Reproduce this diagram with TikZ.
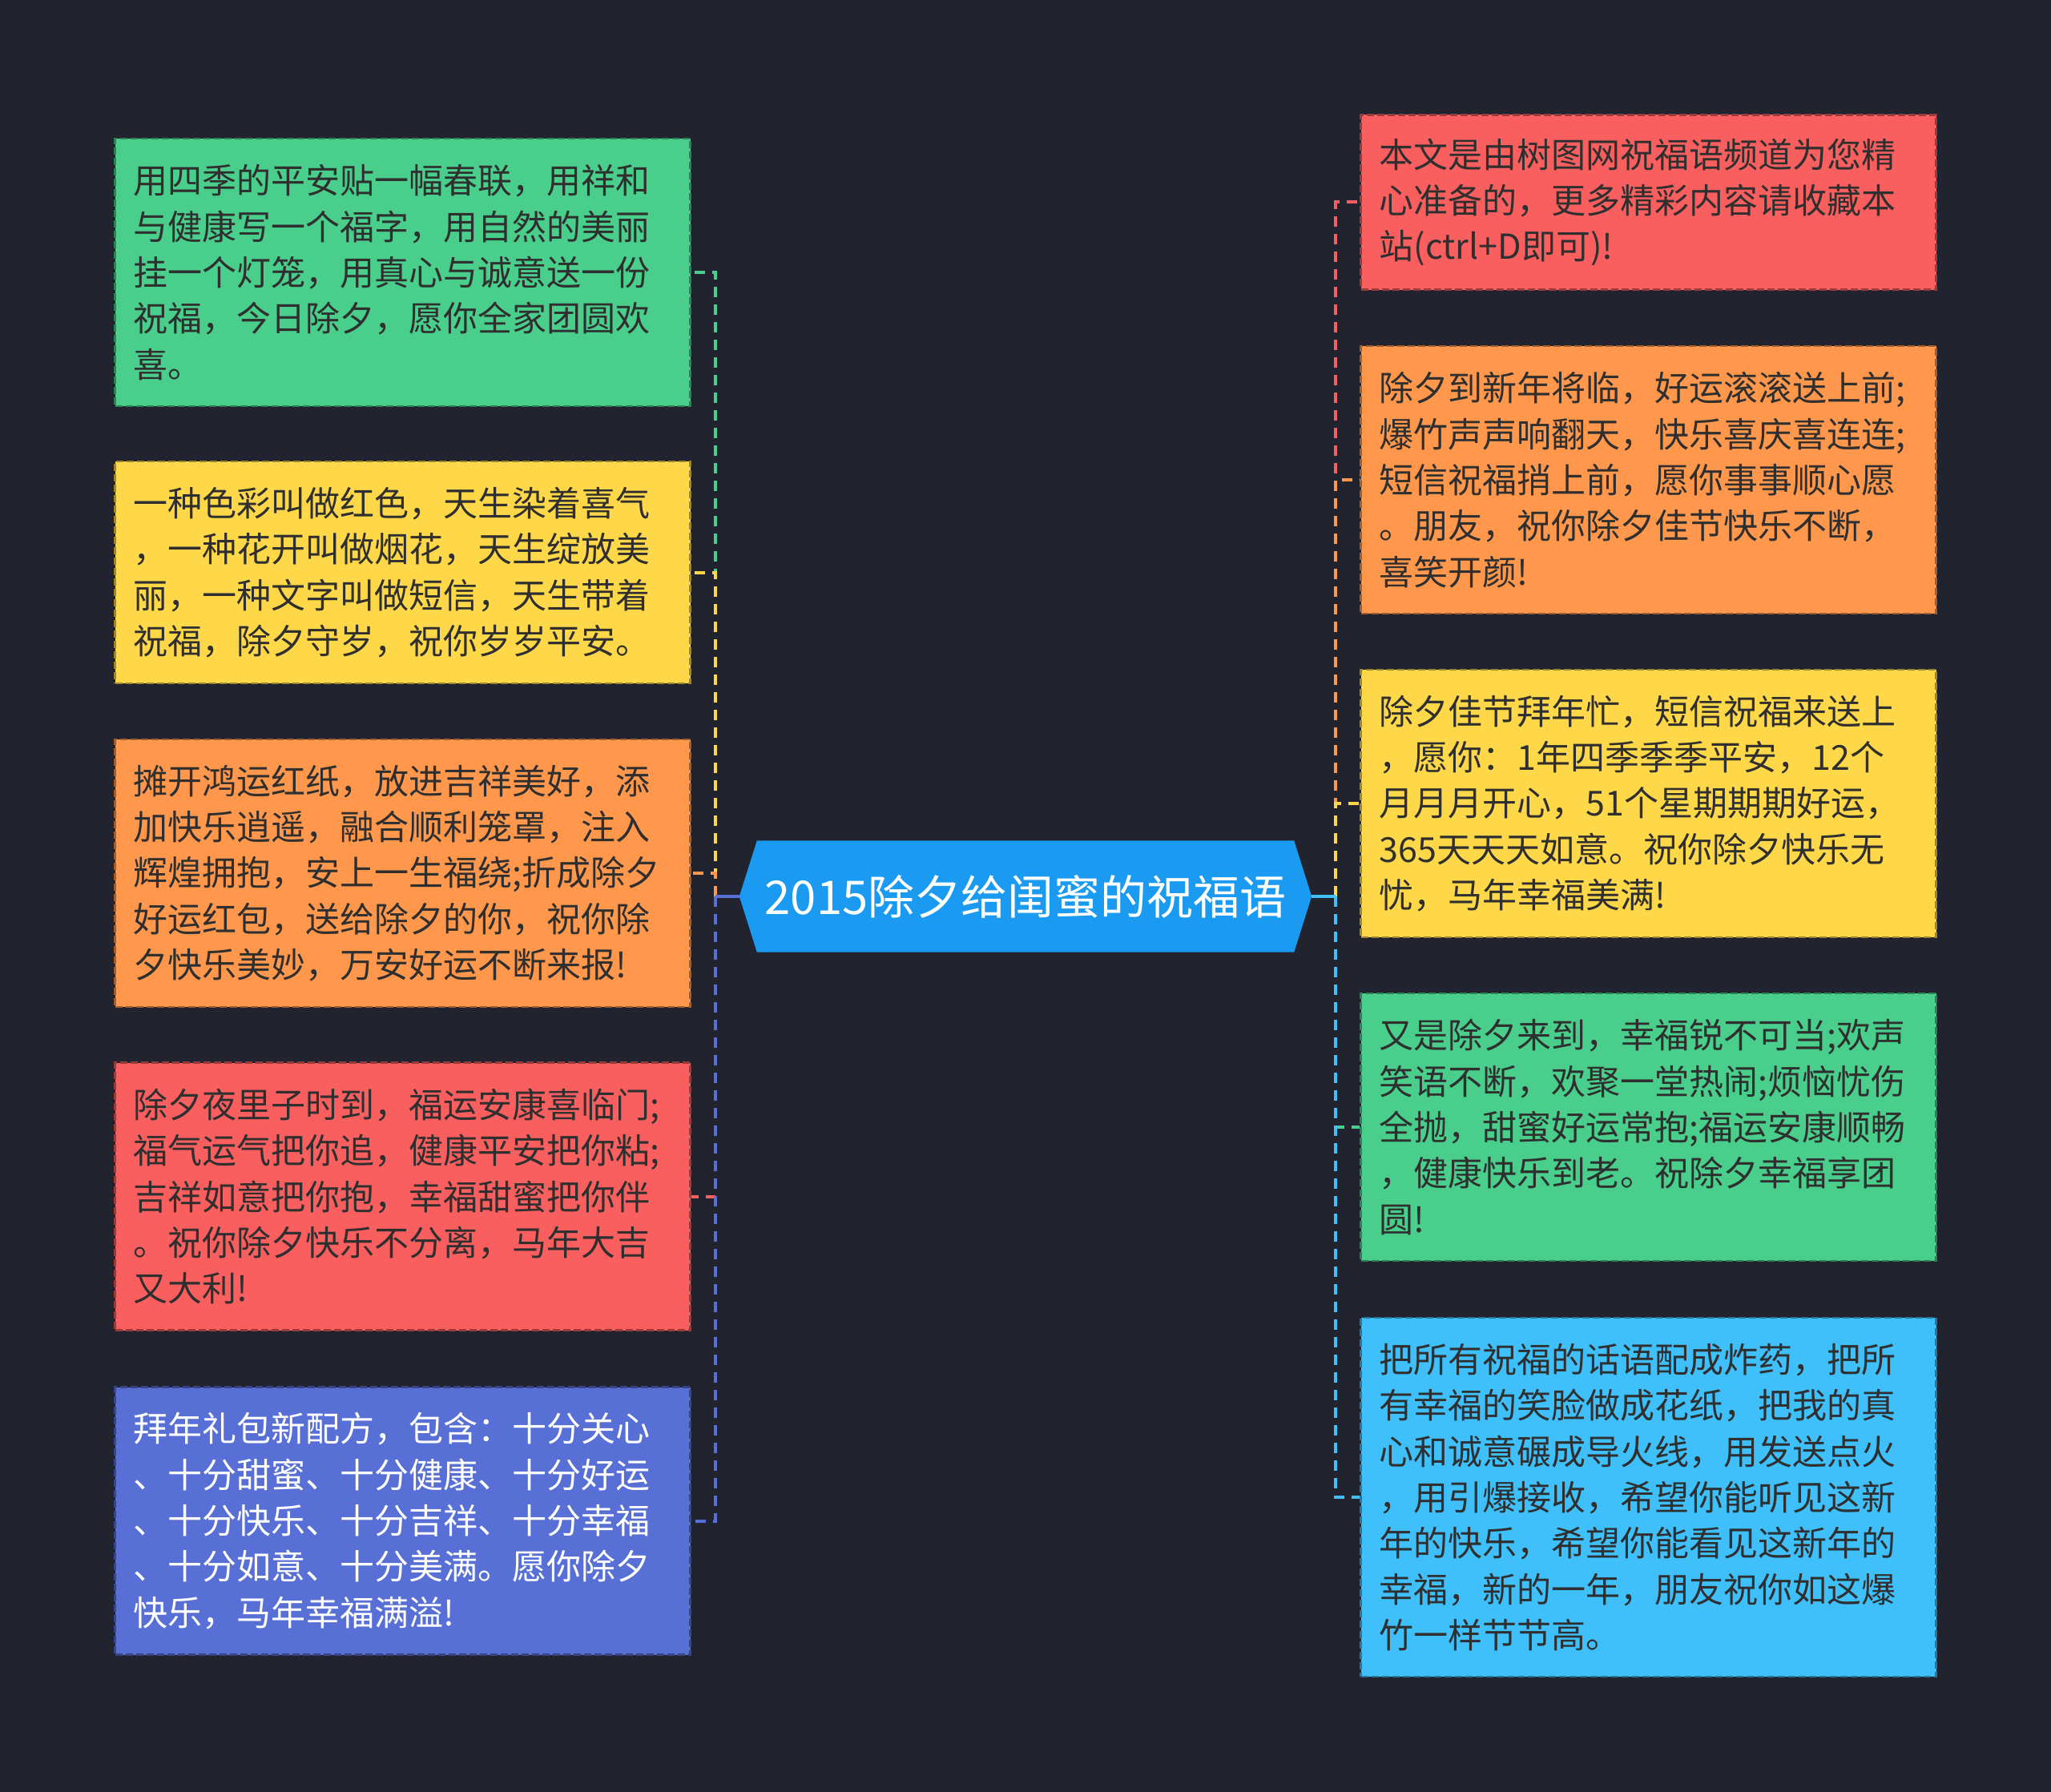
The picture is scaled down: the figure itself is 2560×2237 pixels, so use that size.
\documentclass[tikz,border=0pt]{standalone}
\usepackage{fontspec}
\setmainfont{Noto Sans CJK SC}
\usetikzlibrary{backgrounds}
\definecolor{bg}{HTML}{21242F}
\definecolor{cgreen}{HTML}{4ACE8C}
\definecolor{cyellow}{HTML}{FFD84A}
\definecolor{corange}{HTML}{FF984D}
\definecolor{cred}{HTML}{F95F5F}
\definecolor{cpurple}{HTML}{5870D6}
\definecolor{clblue}{HTML}{40C0FA}
\definecolor{croot}{HTML}{1A9AF0}
\definecolor{txt}{HTML}{2F2F2F}
\tikzset{
  card/.style={minimum width=718pt, inner xsep=23pt, inner ysep=0pt,
    text width=672pt, align=left, font=\fontsize{43}{57.3}\selectfont,
    text=txt, fill=#1, draw=#1!62!black, line width=2.5pt,
    dash pattern=on 9pt off 4pt},
  hthree/.style={minimum height=218pt},
  hfour/.style={minimum height=277pt},
  hfive/.style={minimum height=334pt},
  hseven/.style={minimum height=448pt},
  link/.style={draw=#1, line width=4pt, dash pattern=on 13pt off 9pt},
  stem/.style={draw=#1, line width=4pt},
  rootnode/.style={minimum width=714pt, minimum height=139pt, inner sep=0pt,
    text=white, font=\fontsize{58}{60}\selectfont}
}
\begin{document}
\begin{tikzpicture}[x=1pt,y=-1pt]
\useasboundingbox (0,0) rectangle (2560,2237);

\node[rootnode] (root) at (1280,1119) {2015除夕给闺蜜的祝福语};
\begin{scope}[on background layer]
  \fill[bg] (0,0) rectangle (2560,2237);
  \fill[croot] (root.west) -- ([xshift=22pt]root.north west) -- ([xshift=-22pt]root.north east)
    -- (root.east) -- ([xshift=-22pt]root.south east) -- ([xshift=22pt]root.south west) -- cycle;
\end{scope}

\coordinate (lt) at (893,1119);
\coordinate (rt) at (1667,1119);

% left cards
\node[card=cgreen, hfive] (L1) at (502.5,340) {用四季的平安贴一幅春联，用祥和\\与健康写一个福字，用自然的美丽\\挂一个灯笼，用真心与诚意送一份\\祝福，今日除夕，愿你全家团圆欢\\喜。};
\node[card=cyellow, hfour] (L2) at (502.5,714.5) {一种色彩叫做红色，天生染着喜气\\，一种花开叫做烟花，天生绽放美\\丽，一种文字叫做短信，天生带着\\祝福，除夕守岁，祝你岁岁平安。};
\node[card=corange, hfive] (L3) at (502.5,1090) {摊开鸿运红纸，放进吉祥美好，添\\加快乐逍遥，融合顺利笼罩，注入\\辉煌拥抱，安上一生福绕;折成除夕\\好运红包，送给除夕的你，祝你除\\夕快乐美妙，万安好运不断来报!};
\node[card=cred, hfive] (L4) at (502.5,1493.5) {除夕夜里子时到，福运安康喜临门;\\福气运气把你追，健康平安把你粘;\\吉祥如意把你抱，幸福甜蜜把你伴\\。祝你除夕快乐不分离，马年大吉\\又大利!};
\node[card=cpurple, hfive, text=white] (L5) at (502.5,1898.5) {拜年礼包新配方，包含：十分关心\\、十分甜蜜、十分健康、十分好运\\、十分快乐、十分吉祥、十分幸福\\、十分如意、十分美满。愿你除夕\\快乐，马年幸福满溢!};

% right cards
\node[card=cred, hthree] (R1) at (2057.5,252.5) {本文是由树图网祝福语频道为您精\\心准备的，更多精彩内容请收藏本\\站(ctrl+D即可)!};
\node[card=corange, hfive] (R2) at (2057.5,599) {除夕到新年将临，好运滚滚送上前;\\爆竹声声响翻天，快乐喜庆喜连连;\\短信祝福捎上前，愿你事事顺心愿\\。朋友，祝你除夕佳节快乐不断，\\喜笑开颜!};
\node[card=cyellow, hfive] (R3) at (2057.5,1003) {除夕佳节拜年忙，短信祝福来送上\\，愿你：1年四季季季平安，12个\\月月月开心，51个星期期期好运，\\365天天天如意。祝你除夕快乐无\\忧，马年幸福美满!};
\node[card=cgreen, hfive] (R4) at (2057.5,1407) {又是除夕来到，幸福锐不可当;欢声\\笑语不断，欢聚一堂热闹;烦恼忧伤\\全抛，甜蜜好运常抱;福运安康顺畅\\，健康快乐到老。祝除夕幸福享团\\圆!};
\node[card=clblue, hseven] (R5) at (2057.5,1869) {把所有祝福的话语配成炸药，把所\\有幸福的笑脸做成花纸，把我的真\\心和诚意碾成导火线，用发送点火\\，用引爆接收，希望你能听见这新\\年的快乐，希望你能看见这新年的\\幸福，新的一年，朋友祝你如这爆\\竹一样节节高。};

% left connectors
\draw[link=cgreen] (lt) |- (L1.east);
\draw[link=cyellow] (lt) |- (L2.east);
\draw[link=corange] (lt) |- (L3.east);
\draw[link=cred] (lt) |- (L4.east);
\draw[link=cpurple] (lt) |- (L5.east);
\draw[stem=cpurple] (root.west) -- (lt);

% right connectors
\draw[link=cred] (rt) |- (R1.west);
\draw[link=corange] (rt) |- (R2.west);
\draw[link=cyellow] (rt) |- (R3.west);
\draw[link=cgreen] (rt) |- (R4.west);
\draw[link=clblue] (rt) |- (R5.west);
\draw[stem=clblue] (root.east) -- (rt);
\end{tikzpicture}
\end{document}
